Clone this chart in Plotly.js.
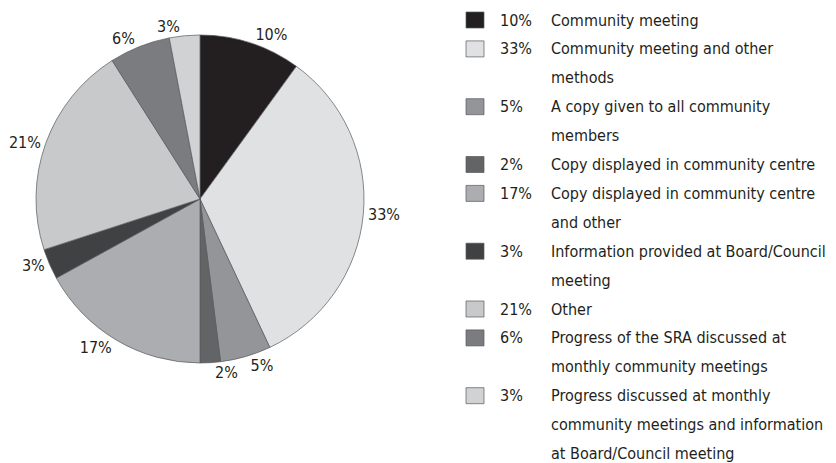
<!DOCTYPE html>
<html><head><meta charset="utf-8">
<script src="https://cdn.plot.ly/plotly-3.0.1.min.js"></script>
<style>html,body{margin:0;padding:0;background:#fff}#chart{width:836px;height:463px}</style>
</head><body><div id="chart"></div>
<script>
const categories = [
  "Community meeting",
  "Community meeting and other methods",
  "A copy given to all community members",
  "Copy displayed in community centre",
  "Copy displayed in community centre and other",
  "Information provided at Board/Council meeting",
  "Other",
  "Progress of the SRA discussed at monthly community meetings",
  "Progress discussed at monthly community meetings and information at Board/Council meeting"
];
const legendLines = [
  ["Community meeting"],
  ["Community meeting and other", "methods"],
  ["A copy given to all community", "members"],
  ["Copy displayed in community centre"],
  ["Copy displayed in community centre", "and other"],
  ["Information provided at Board/Council", "meeting"],
  ["Other"],
  ["Progress of the SRA discussed at", "monthly community meetings"],
  ["Progress discussed at monthly", "community meetings and information", "at Board/Council meeting"]
];
const values = [10, 33, 5, 2, 17, 3, 21, 6, 3];
const colors = ["#231f20", "#e0e1e3", "#939598", "#636466", "#acadb0", "#404143", "#c8c9cb", "#7b7c7f", "#d0d2d4"];
// labels drawn by a second, transparent copy of the pie so neighbouring labels are not pushed apart
const overlayLabel = [false, false, false, true, false, false, false, false, true];

const FONT = '"DejaVu Sans Condensed", "Liberation Sans Narrow", sans-serif';
const FS = 16;
const W = 836, H = 463;
const domain = {x: [36 / W, 364 / W], y: [1 - 363 / H, 1 - 35 / H]};
const labelText = values.map(v => v + '%');

const base = {
  type: 'pie',
  labels: categories,
  values: values,
  text: labelText,
  textinfo: 'text',
  sort: false,
  direction: 'clockwise',
  rotation: 0,
  outsidetextfont: {family: FONT, size: FS, color: '#231f20'},
  domain: domain,
  showlegend: false
};
const trace = Object.assign({}, base, {
  textposition: overlayLabel.map(o => o ? 'none' : 'outside'),
  marker: {colors: colors, line: {color: '#58595b', width: 0.7}},
  hoverinfo: 'label+percent'
});
const traceOverlay = Object.assign({}, base, {
  textposition: overlayLabel.map(o => o ? 'outside' : 'none'),
  marker: {colors: colors.map(() => 'rgba(0,0,0,0)'), line: {width: 0}},
  hoverinfo: 'skip'
});

const shapes = [], annotations = [];
const lineH = 28.9, y0 = 20;
let line = 0;
values.forEach((v, i) => {
  const yc = y0 + line * lineH;
  shapes.push({type: 'rect', xref: 'paper', yref: 'paper',
    x0: 466 / W, x1: 484 / W, y0: 1 - (yc + 8) / H, y1: 1 - (yc - 8) / H,
    fillcolor: colors[i], line: {color: '#58595b', width: 0.7}});
  annotations.push({xref: 'paper', yref: 'paper', x: 498 / W, y: 1 - yc / H,
    xanchor: 'left', yanchor: 'middle', showarrow: false, text: v + '%',
    font: {family: FONT, size: FS, color: '#231f20'}});
  legendLines[i].forEach(t => {
    const yy = y0 + line * lineH;
    annotations.push({xref: 'paper', yref: 'paper', x: 549 / W, y: 1 - yy / H,
      xanchor: 'left', yanchor: 'middle', showarrow: false, text: t,
      font: {family: FONT, size: FS, color: '#231f20'}});
    line++;
  });
});

const layout = {
  width: W, height: H,
  margin: {l: 0, r: 0, t: 0, b: 0},
  paper_bgcolor: '#ffffff',
  font: {family: FONT, color: '#231f20'},
  shapes: shapes,
  annotations: annotations,
  showlegend: false
};
Plotly.newPlot('chart', [trace, traceOverlay], layout, {displayModeBar: false, staticPlot: true});
</script></body></html>
